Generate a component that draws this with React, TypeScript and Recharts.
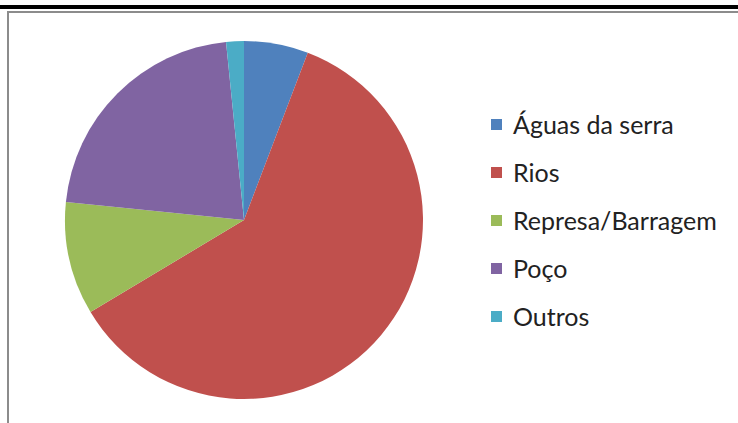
import { PieChart, Pie, Cell, Legend } from 'recharts';

const categories = ['Águas da serra', 'Rios', 'Represa/Barragem', 'Poço', 'Outros'];
const values = [5.8, 60.6, 10.2, 21.8, 1.6];
const colors = ['#4F81BD', '#C0504D', '#9BBB59', '#8064A2', '#4BACC6'];

const data = categories.map((name, i) => ({ name, value: values[i] }));

function LegendList() {
  return (
    <div style={{ fontFamily: 'Lato, sans-serif', fontSize: 25, color: '#222' }}>
      {categories.map((c, i) => (
        <div key={c} style={{ display: 'flex', alignItems: 'center', height: 48 }}>
          <span style={{ width: 11, height: 11, background: colors[i], marginRight: 11, display: 'inline-block', flexShrink: 0 }} />
          <span>{c}</span>
        </div>
      ))}
    </div>
  );
}

export default function App() {
  return (
    <div style={{ position: 'fixed', left: 0, top: 0, width: 738, height: 423, background: '#fff', overflow: 'hidden' }}>
      <div style={{ position: 'absolute', left: 0, top: 5, width: 738, height: 4, background: '#000' }} />
      <div
        style={{
          position: 'absolute',
          left: 7,
          top: 11,
          width: 740,
          height: 420,
          borderTop: '2px solid #8c8c8c',
          borderLeft: '2px solid #8c8c8c',
        }}
      />
      <div style={{ position: 'absolute', left: 0, top: 0 }}>
        <PieChart width={738} height={423} margin={{ top: 0, right: 0, bottom: 0, left: 0 }}>
          <Pie
            data={data}
            dataKey="value"
            nameKey="name"
            cx={244}
            cy={220}
            outerRadius={179}
            startAngle={90}
            endAngle={-270}
            stroke="none"
            isAnimationActive={false}
          >
            {data.map((d, i) => (
              <Cell key={d.name} fill={colors[i]} />
            ))}
          </Pie>
          <Legend
            layout="vertical"
            align="right"
            verticalAlign="top"
            content={() => <LegendList />}
            wrapperStyle={{ left: 491, top: 100, width: 246 }}
          />
        </PieChart>
      </div>
    </div>
  );
}
